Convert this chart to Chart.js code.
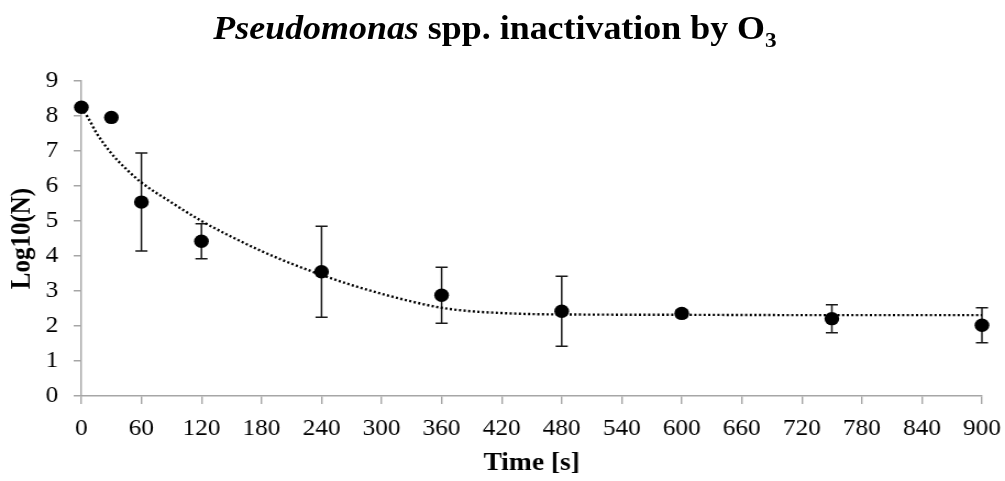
<!DOCTYPE html>
<html lang="en">
<head>
    <meta charset="UTF-8">
    <title>Pseudomonas spp. inactivation by O3</title>
    <script src="https://cdn.jsdelivr.net/npm/chart.js"></script>
    <style>
        body { margin: 0; background: #fff; }
        .wrap { position: relative; width: 1005px; height: 481px; overflow: hidden; }
        /* chart is drawn a bit narrower and widened, like the exported figure */
        .stretch { position: absolute; left: 0; top: 0; width: 914px; height: 481px;
                   transform: scaleX(1.0996); transform-origin: 0 0; }
        .chart-title {
            position: absolute; left: 0; top: 11px; width: 990px;
            text-align: center;
            font: bold 34px "Liberation Serif", "Times New Roman", serif;
            line-height: 34px; color: #000;
            transform: scaleX(1.056); transform-origin: 495px 0;
        }
        .chart-title sub { font-size: 22px; vertical-align: -8px; line-height: 0; }
    </style>
</head>
<body>
    <div class="wrap">
        <div class="stretch">
            <canvas id="inactivationChart" width="914" height="481"></canvas>
        </div>
        <div class="chart-title"><i>Pseudomonas</i> spp. inactivation by O<sub>3</sub></div>
    </div>

    <script>
        // measured counts (mean and standard deviation)
        const times = [0, 30, 60, 120, 240, 360, 480, 600, 750, 900];
        const logN = [8.25, 7.96, 5.54, 4.42, 3.55, 2.88, 2.42, 2.36, 2.21, 2.02];
        const logNErr = [0, 0, 1.4, 0.5, 1.3, 0.8, 1.0, 0.1, 0.4, 0.5];

        // fitted inactivation curve
        const fitTimes = [0, 6, 15, 30, 45, 60, 90, 120, 150, 180, 210, 240, 270, 300, 330, 360, 390, 420, 450, 480, 600, 750, 900];
        const fitLogN = [8.22, 7.98, 7.52, 6.93, 6.48, 6.1, 5.53, 5.0, 4.55, 4.14, 3.78, 3.46, 3.17, 2.92, 2.7, 2.52, 2.42, 2.37, 2.34, 2.33, 2.32, 2.31, 2.31];

        const xTicks = [0, 60, 120, 180, 240, 300, 360, 420, 480, 540, 600, 660, 720, 780, 840, 900];
        const yTicks = [0, 1, 2, 3, 4, 5, 6, 7, 8, 9];

        const axisGray = "#a6a6a6";
        const serif = "'Liberation Serif', 'Times New Roman', serif";

        // vertical error bars with caps, drawn under the markers
        const errorBars = {
            id: "errorBars",
            beforeDatasetsDraw(chart) {
                const { ctx, scales: { x, y } } = chart;
                ctx.save();
                ctx.strokeStyle = "#1a1a1a";
                ctx.lineWidth = 1.5;
                times.forEach((t, i) => {
                    if (!logNErr[i]) return;
                    const px = x.getPixelForValue(t);
                    const top = y.getPixelForValue(logN[i] + logNErr[i]);
                    const bot = y.getPixelForValue(logN[i] - logNErr[i]);
                    ctx.beginPath();
                    ctx.moveTo(px, top); ctx.lineTo(px, bot);
                    ctx.moveTo(px - 5.5, top); ctx.lineTo(px + 5.5, top);
                    ctx.moveTo(px - 5.5, bot); ctx.lineTo(px + 5.5, bot);
                    ctx.stroke();
                });
                ctx.restore();
            }
        };

        const ctx = document.getElementById("inactivationChart").getContext("2d");
        new Chart(ctx, {
            type: "scatter",
            data: {
                datasets: [{
                    label: "Log10(N)",
                    data: times.map((t, i) => ({ x: t, y: logN[i] })),
                    pointRadius: 6.7,
                    pointBackgroundColor: "#000",
                    pointBorderColor: "#000",
                    pointBorderWidth: 0,
                    clip: false
                }, {
                    type: "line",
                    label: "Fit",
                    data: fitTimes.map((t, i) => ({ x: t, y: fitLogN[i] })),
                    borderColor: "#000",
                    borderWidth: 2.4,
                    borderDash: [2, 2.2],
                    cubicInterpolationMode: "monotone",
                    pointRadius: 0,
                    fill: false
                }]
            },
            options: {
                responsive: false,
                animation: false,
                layout: { padding: { top: 81, right: 21, left: 0, bottom: 0 } },
                plugins: {
                    legend: { display: false },
                    tooltip: { enabled: false },
                    title: { display: false }
                },
                scales: {
                    x: {
                        type: "linear",
                        min: 0, max: 900,
                        afterFit(scale) {
                            scale.height = 85;
                            // keep the end labels from pushing the plot area in
                            scale.paddingLeft = 0;
                            scale.paddingRight = 0;
                        },
                        afterBuildTicks(scale) { scale.ticks = xTicks.map(v => ({ value: v })); },
                        border: { color: axisGray, width: 1.5 },
                        grid: { drawOnChartArea: false, drawTicks: true, tickLength: 8, color: axisGray, lineWidth: 1.4 },
                        ticks: { color: "#000", padding: 11, maxRotation: 0, font: { family: serif, size: 23 } },
                        title: {
                            display: true, text: "Time [s]", color: "#000",
                            padding: { top: 0, bottom: 2 },
                            font: { family: serif, size: 25, weight: "bold" }
                        }
                    },
                    y: {
                        min: 0, max: 9,
                        afterFit(scale) { scale.width = 74; },
                        afterBuildTicks(scale) { scale.ticks = yTicks.map(v => ({ value: v })); },
                        border: { color: axisGray, width: 1.4 },
                        grid: { drawOnChartArea: false, drawTicks: true, tickLength: 7, color: axisGray, lineWidth: 1.5 },
                        ticks: { color: "#000", padding: 14, font: { family: serif, size: 23 } },
                        title: {
                            display: true, text: "Log10(N)", color: "#000",
                            padding: { top: 6, bottom: 0 },
                            font: { family: serif, size: 25, weight: "bold" }
                        }
                    }
                }
            },
            plugins: [errorBars]
        });
    </script>
</body>
</html>
